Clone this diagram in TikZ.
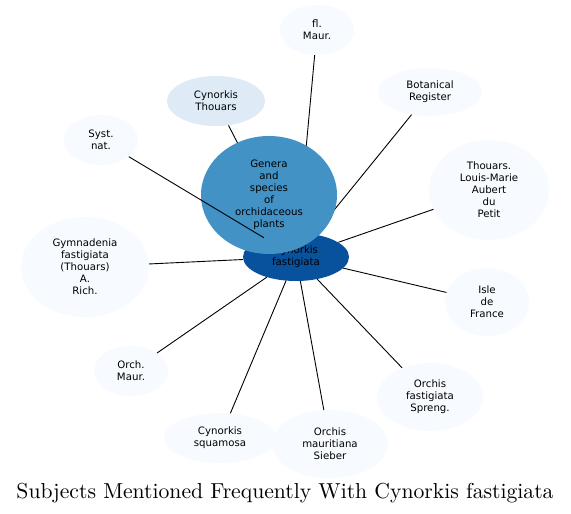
\documentclass[tikz,border=0pt]{standalone}
\usepackage{fontspec}
\usepackage{graphicx}
\newfontfamily\dvs{DejaVu Sans}
\usetikzlibrary{shapes.geometric}
\definecolor{pale}{HTML}{F7FBFF}
\definecolor{light}{HTML}{DEEBF7}
\definecolor{mid}{HTML}{4292C6}
\definecolor{dark}{HTML}{08519C}
\tikzset{
  ent/.style={ellipse, fill=pale, inner sep=0pt, align=center,
    font=\dvs\fontsize{10.2}{12}\selectfont, text=black},
  edge/.style={draw=black, line width=0.9pt}
}
\begin{document}
\begin{tikzpicture}[x=1pt,y=1pt]
\useasboundingbox (0,0) rectangle (571,-514);
\fill[white] (0,0) rectangle (571,-514);
% nodes (non-hub)
\node[ent, minimum width=74pt, minimum height=50pt] (flm) at (317,-30) {fl.\\Maur.};
\node[ent, fill=light, minimum width=98pt, minimum height=50pt] (ct) at (216,-101) {Cynorkis\\Thouars};
\node[ent, minimum width=104pt, minimum height=48pt] (br) at (430,-92) {Botanical\\Register};
\node[ent, minimum width=74pt, minimum height=50pt] (sn) at (101,-140) {Syst.\\nat.};
\node[ent, minimum width=120pt, minimum height=100pt] (th) at (489,-190) {Thouars.\\Louis-Marie\\Aubert\\du\\Petit};
\node[ent, minimum width=128pt, minimum height=100pt] (gym) at (85,-267) {Gymnadenia\\fastigiata\\(Thouars)\\A.\\Rich.};
\node[ent, minimum width=84pt, minimum height=68pt] (idf) at (487,-302) {Isle\\de\\France};
\node[ent, minimum width=74pt, minimum height=50pt] (om) at (131,-371) {Orch.\\Maur.};
\node[ent, minimum width=106pt, minimum height=68pt] (ofs) at (430,-397) {Orchis\\fastigiata\\Spreng.};
\node[ent, minimum width=112pt, minimum height=50pt] (csq) at (220,-438) {Cynorkis\\squamosa};
\node[ent, minimum width=116pt, minimum height=68pt] (oms) at (330,-444) {Orchis\\mauritiana\\Sieber};
% hub
\node[ent, fill=dark, minimum width=106pt, minimum height=48pt] (cf) at (296,-257) {Cynorkis\\fastigiata};
% edges
\draw[edge] (cf) -- (flm);
\draw[edge] (cf) -- (ct);
\draw[edge] (cf) -- (br);
\draw[edge] (cf) -- (th);
\draw[edge] (cf) -- (gym);
\draw[edge] (cf) -- (idf);
\draw[edge] (cf) -- (om);
\draw[edge] (cf) -- (ofs);
\draw[edge] (cf) -- (csq);
\draw[edge] (cf) -- (oms);
% genera node on top
\node[ent, fill=mid, minimum width=136pt, minimum height=118pt] (gen) at (269,-195) {Genera\\and\\species\\of\\orchidaceous\\plants};
\draw[edge] (cf) -- (sn);
% title
\node (title) at (285,-493) {\resizebox{537pt}{!}{Subjects Mentioned Frequently With Cynorkis fastigiata}};
\end{tikzpicture}
\end{document}
